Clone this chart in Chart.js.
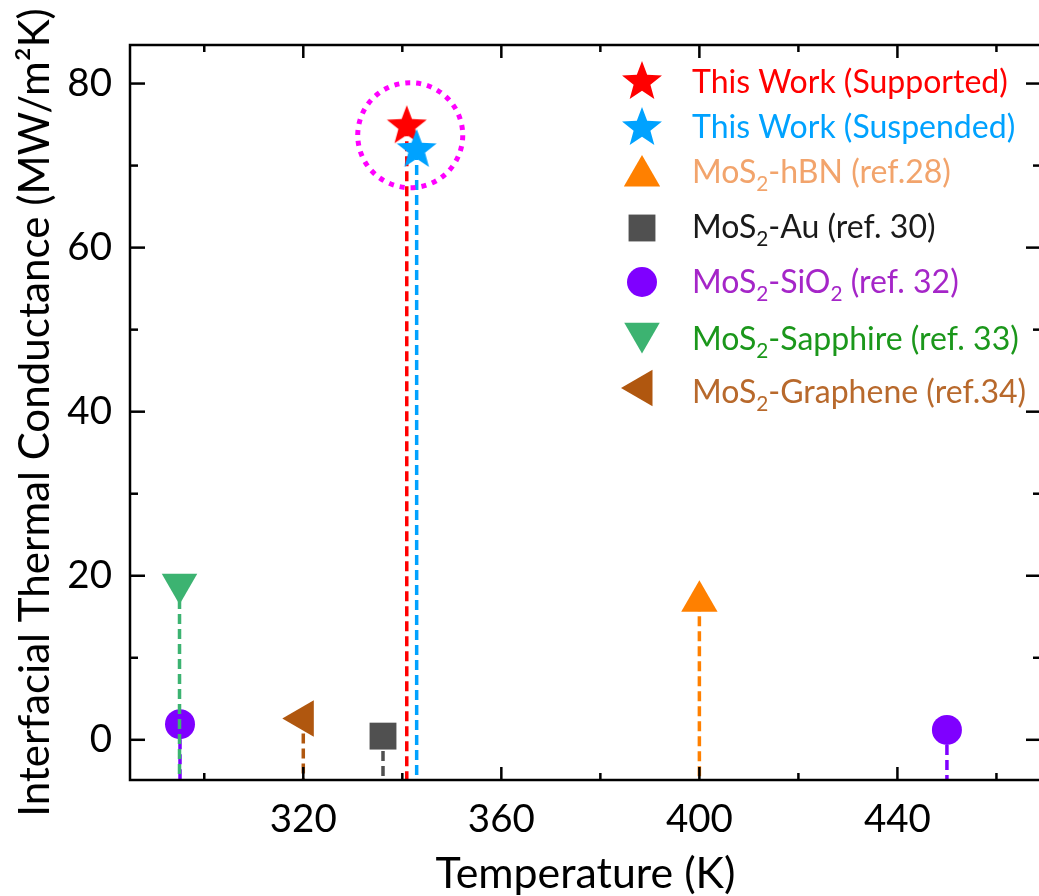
<!DOCTYPE html>
<html><head><meta charset="utf-8">
<script src="https://cdn.jsdelivr.net/npm/chart.js@4.4.1/dist/chart.umd.min.js"></script>
<style>
html,body{margin:0;padding:0;background:#fff;overflow:hidden;width:1039px;height:896px}
#wrap{position:absolute;left:0;top:0;width:1062px;height:896px}
</style></head><body><div id="wrap"><canvas id="c" width="1062" height="896"></canvas></div>
<script>
// ---------- data ----------
const seriesNames = [
  'This Work (Supported)',
  'This Work (Suspended)',
  'MoS_2-hBN (ref.28)',
  'MoS_2-Au (ref. 30)',
  'MoS_2-SiO_2 (ref. 32)',
  'MoS_2-Sapphire (ref. 33)',
  'MoS_2-Graphene (ref.34)'
];
const supportedX = [340.9], supportedY = [74.8];
const suspendedX = [342.9], suspendedY = [71.9];
const hbnX = [400.0], hbnY = [16.9];
const auX = [336.1], auY = [0.45];
const sio2X = [295.1, 450.0], sio2Y = [1.9, 1.2];
const sapphireX = [295.0], sapphireY = [19.0];
const grapheneX = [320.0], grapheneY = [2.6];
const seriesX = [supportedX, suspendedX, hbnX, auX, sio2X, sapphireX, grapheneX];
const seriesY = [supportedY, suspendedY, hbnY, auY, sio2Y, sapphireY, grapheneY];

const xMajorTicks = [320, 360, 400, 440];
const xMinorTicks = [300, 340, 380, 420, 460];
const yMajorTicks = [0, 20, 40, 60, 80];
const yMinorTicks = [10, 30, 50, 70];
const xTitle = 'Temperature (K)';
const yTitle = 'Interfacial Thermal Conductance (MW/m\u00B2K)';
const highlightCenter = {x: 341.6, y: 73.7};

// ---------- styles ----------
const markerColors = ['#FF0000', '#00A2FF', '#FF8000', '#505050', '#7F00FF', '#3CB371', '#B0570F'];
const textColors = ['#FF0000', '#00A2FF', '#F2A46C', '#1A1A1A', '#A526C8', '#1B971B', '#B8692C'];
const FAMILY = "Lato, 'Open Sans', sans-serif";

const mctx = document.createElement('canvas').getContext('2d');
function fit(text, target) { mctx.font = '100px ' + FAMILY; return 100 * target / mctx.measureText(text).width; }
const tickSize = fit('320', 67);
const xTitleSize = fit(xTitle, 300);
const yTitleSize = fit(yTitle, 809);
const legendSize = fit(seriesNames[0], 316);

function makeStar(color, R, ratio) {
  const c = document.createElement('canvas');
  const s = Math.ceil(2 * R + 4);
  c.width = s; c.height = s;
  const g = c.getContext('2d');
  g.fillStyle = color;
  g.beginPath();
  for (let k = 0; k < 10; k++) {
    const r = k % 2 === 0 ? R : R * ratio;
    const a = -Math.PI / 2 + k * Math.PI / 5;
    const px = s / 2 + r * Math.cos(a), py = s / 2 + r * Math.sin(a);
    k === 0 ? g.moveTo(px, py) : g.lineTo(px, py);
  }
  g.closePath(); g.fill();
  return c;
}
const markerStyles = [makeStar(markerColors[0], 21, 0.42), makeStar(markerColors[1], 21, 0.42),
  'triangle', 'rect', 'circle', 'triangle', 'triangle'];
const markerRotations = [0, 0, 0, 0, 0, 180, -90];
const markerRadii = [21, 21, 21, 19, 15, 20.5, 21];

const subDigits = '\u2080\u2081\u2082\u2083\u2084\u2085\u2086\u2087\u2088\u2089';
const datasets = seriesNames.map((name, i) => ({
  label: name.replace(/_(\d)/g, (m, d) => subDigits[+d]),
  data: seriesX[i].map((x, j) => ({x: x, y: seriesY[i][j]})),
  pointStyle: markerStyles[i],
  pointRotation: markerRotations[i],
  pointRadius: markerRadii[i],
  pointBackgroundColor: markerColors[i],
  pointBorderColor: markerColors[i],
  pointBorderWidth: 0,
  showLine: false,
  clip: false,
  order: seriesNames.length - i
}));

function plotBox(chart) {
  const sx = chart.scales.x, sy = chart.scales.y;
  return {
    left: sx.getPixelForValue(sx.min), right: sx.getPixelForValue(sx.max),
    top: sy.getPixelForValue(sy.max), bottom: sy.getPixelForValue(sy.min)
  };
}

// ---------- plugins ----------
const dropLines = {
  id: 'dropLines',
  beforeDatasetDraw(chart, args) {
    const ctx = chart.ctx, bottom = plotBox(chart).bottom;
    const color = markerColors[args.index];
    ctx.save();
    ctx.strokeStyle = color; ctx.lineWidth = 3.5; ctx.setLineDash([10, 5]);
    args.meta.data.forEach(el => {
      ctx.beginPath(); ctx.moveTo(el.x, el.y); ctx.lineTo(el.x, bottom); ctx.stroke();
    });
    ctx.restore();
  }
};

const frame = {
  id: 'frame',
  afterDatasetsDraw(chart) {
    const {ctx, scales} = chart;
    const a = plotBox(chart);
    ctx.save();
    ctx.strokeStyle = '#000'; ctx.lineWidth = 2.5; ctx.setLineDash([]);
    ctx.strokeRect(a.left, a.top, a.right - a.left, a.bottom - a.top);
    const tick = (vals, len) => {
      vals.forEach(v => {
        const px = scales.x.getPixelForValue(v);
        ctx.beginPath(); ctx.moveTo(px, a.bottom); ctx.lineTo(px, a.bottom - len); ctx.stroke();
        ctx.beginPath(); ctx.moveTo(px, a.top); ctx.lineTo(px, a.top + len); ctx.stroke();
      });
    };
    const ytick = (vals, len) => {
      vals.forEach(v => {
        const py = scales.y.getPixelForValue(v);
        ctx.beginPath(); ctx.moveTo(a.left, py); ctx.lineTo(a.left + len, py); ctx.stroke();
        ctx.beginPath(); ctx.moveTo(a.right, py); ctx.lineTo(a.right - len, py); ctx.stroke();
      });
    };
    tick(xMajorTicks, 13); tick(xMinorTicks, 7);
    ytick(yMajorTicks, 15); ytick(yMinorTicks, 8);
    // highlight circle
    const cx = scales.x.getPixelForValue(highlightCenter.x), cy = scales.y.getPixelForValue(highlightCenter.y);
    ctx.strokeStyle = '#FF00FF'; ctx.lineWidth = 5; ctx.setLineDash([5, 6]);
    ctx.beginPath(); ctx.arc(cx, cy, 52.5, 0, Math.PI * 2); ctx.stroke();
    ctx.restore();
  }
};

const legendMarkerX = 642, legendTextX = 692;
const legendMarkerY = [82, 128, 176, 228, 282, 333, 388];
const legendBaseline = [93, 138, 183, 238, 293, 350, 403];
const customLegend = {
  id: 'customLegend',
  afterDraw(chart) {
    const ctx = chart.ctx;
    const drawPoint = Chart.helpers.drawPoint;
    seriesNames.forEach((name, i) => {
      ctx.save();
      ctx.fillStyle = markerColors[i]; ctx.strokeStyle = markerColors[i];
      drawPoint(ctx, {pointStyle: markerStyles[i], rotation: markerRotations[i], radius: markerRadii[i], borderWidth: 0},
        legendMarkerX, legendMarkerY[i]);
      ctx.restore();
      ctx.save();
      ctx.fillStyle = textColors[i]; ctx.textBaseline = 'alphabetic'; ctx.textAlign = 'left';
      let x = legendTextX;
      const parts = name.split(/(_\d)/);
      parts.forEach(p => {
        if (!p) return;
        if (p[0] === '_') {
          ctx.font = (legendSize * 0.65) + 'px ' + FAMILY;
          ctx.fillText(p.slice(1), x, legendBaseline[i] + legendSize * 0.24);
          x += ctx.measureText(p.slice(1)).width;
        } else {
          ctx.font = legendSize + 'px ' + FAMILY;
          ctx.fillText(p, x, legendBaseline[i]);
          x += ctx.measureText(p).width;
        }
      });
      ctx.restore();
    });
  }
};

// ---------- chart ----------
new Chart(document.getElementById('c'), {
  type: 'scatter',
  data: {datasets},
  options: {
    responsive: false, animation: false, events: [],
    devicePixelRatio: 1,
    layout: {padding: {top: 45, right: 3, left: 0, bottom: 0}},
    plugins: {legend: {display: false}, tooltip: {enabled: false}},
    scales: {
      x: {
        type: 'linear', min: 285, max: 469,
        afterBuildTicks: s => { s.ticks = xMajorTicks.map(v => ({value: v})); },
        afterFit: s => { s.height = 116; s.paddingLeft = 0; s.paddingRight = 0; },
        grid: {display: false, drawTicks: false}, border: {display: false},
        ticks: {color: '#000', font: {family: FAMILY, size: tickSize}, padding: 16, maxRotation: 0, autoSkip: false},
        title: {display: true, text: xTitle, color: '#000', font: {family: FAMILY, size: xTitleSize, lineHeight: 1.0}, padding: {top: 0, bottom: 0}}
      },
      y: {
        type: 'linear', min: -4.9, max: 84.7,
        afterBuildTicks: s => { s.ticks = yMajorTicks.map(v => ({value: v})); },
        afterFit: s => { s.width = 130; s.paddingTop = 0; s.paddingBottom = 0; },
        grid: {display: false, drawTicks: false}, border: {display: false},
        ticks: {color: '#000', font: {family: FAMILY, size: tickSize}, padding: 18, autoSkip: false},
        title: {display: true, text: yTitle, color: '#000', font: {family: FAMILY, size: yTitleSize}, padding: {top: 10, bottom: 0}}
      }
    }
  },
  plugins: [dropLines, frame, customLegend]
});
</script></body></html>
